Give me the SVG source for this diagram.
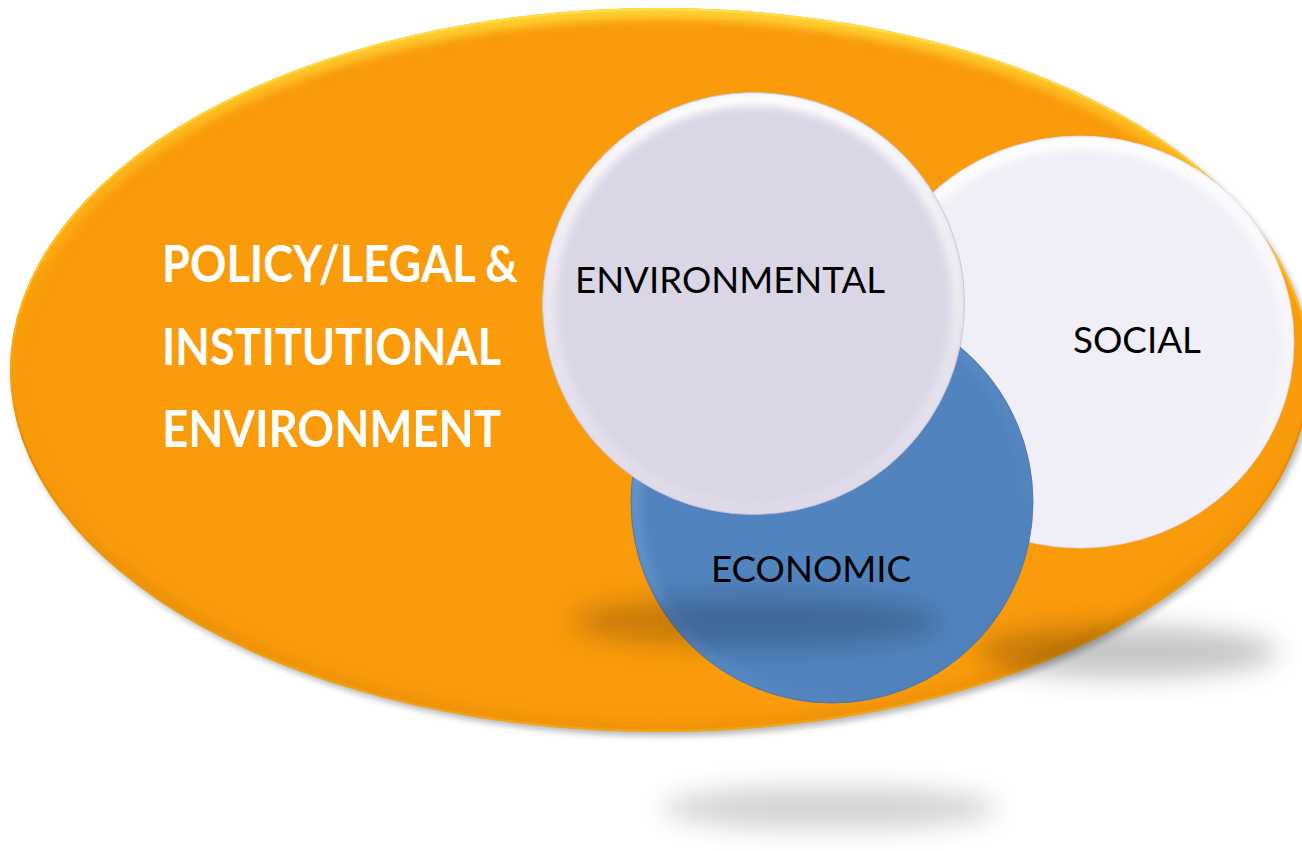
<svg xmlns="http://www.w3.org/2000/svg" width="1302" height="851" viewBox="0 0 1302 851">
  <defs>
    <style>
      .bold { font-family: Lato, "Open Sans", "Liberation Sans", sans-serif; font-weight: 700; font-size: 51px; fill: #FFFFFF; }
      .lbl { font-family: Lato, "Open Sans", "Liberation Sans", sans-serif; font-weight: 400; font-size: 36px; fill: #000000; }
      .shadow { fill: #000000; filter: url(#blurBig); }
    </style>
    <filter id="blurBig" x="-50%" y="-100%" width="200%" height="300%">
      <feGaussianBlur stdDeviation="13"/>
    </filter>
    <filter id="blurSmall" x="-10%" y="-10%" width="120%" height="120%">
      <feGaussianBlur stdDeviation="3"/>
    </filter>
    <filter id="blurRim" x="-10%" y="-10%" width="120%" height="120%">
      <feGaussianBlur stdDeviation="4"/>
    </filter>
    <clipPath id="clipOrange"><ellipse cx="660" cy="370" rx="650" ry="362"/></clipPath>
    <clipPath id="clipEnv"><circle cx="753.5" cy="303.5" r="211"/></clipPath>
    <clipPath id="clipSoc"><ellipse cx="1080" cy="342" rx="214" ry="206"/></clipPath>
    <clipPath id="clipEco"><circle cx="832" cy="502" r="201"/></clipPath>
    <linearGradient id="rimOrange" x1="0" y1="0" x2="0" y2="1">
      <stop offset="0" stop-color="#FFD838" stop-opacity="0.9"/>
      <stop offset="0.3" stop-color="#FFBE1C" stop-opacity="0.5"/>
      <stop offset="0.5" stop-color="#F99B0B" stop-opacity="0"/>
      <stop offset="0.8" stop-color="#D98300" stop-opacity="0.35"/>
      <stop offset="1" stop-color="#E08800" stop-opacity="0.35"/>
    </linearGradient>
    <linearGradient id="edgeOrange" x1="0" y1="0" x2="0" y2="1">
      <stop offset="0" stop-color="#FFE048"/>
      <stop offset="0.4" stop-color="#FFB818"/>
      <stop offset="0.6" stop-color="#E58C05"/>
      <stop offset="1" stop-color="#F2A512"/>
    </linearGradient>
    <linearGradient id="rimLight" x1="0" y1="0" x2="0" y2="1">
      <stop offset="0" stop-color="#FFFFFF" stop-opacity="1"/>
      <stop offset="0.45" stop-color="#FFFFFF" stop-opacity="0.5"/>
      <stop offset="1" stop-color="#FFFFFF" stop-opacity="0.1"/>
    </linearGradient>
    <linearGradient id="rimBlue" x1="0" y1="0" x2="1" y2="1">
      <stop offset="0" stop-color="#8DB6E8" stop-opacity="0.7"/>
      <stop offset="0.5" stop-color="#6F9CD2" stop-opacity="0.3"/>
      <stop offset="1" stop-color="#3F6DA6" stop-opacity="0.4"/>
    </linearGradient>
  </defs>

  <!-- floating shadow below the diagram -->
  <ellipse class="shadow" cx="830" cy="808" rx="168" ry="22" opacity="0.17"/>

  <g id="policy-legal-institutional-environment">
    <ellipse cx="663" cy="374" rx="650" ry="362" fill="#000000" opacity="0.28" filter="url(#blurSmall)"/>
    <ellipse cx="660" cy="370" rx="650" ry="362" fill="#F99B0B"/>
    <g clip-path="url(#clipOrange)">
      <ellipse cx="660" cy="370" rx="647" ry="359" fill="none" stroke="url(#rimOrange)" stroke-width="16" filter="url(#blurRim)"/>
      <ellipse cx="660" cy="370" rx="649" ry="361" fill="none" stroke="url(#edgeOrange)" stroke-width="2.5"/>
    </g>
    <text class="bold" x="162" y="282" textLength="356" lengthAdjust="spacingAndGlyphs">POLICY/LEGAL &amp;</text>
    <text class="bold" x="162" y="365" textLength="339" lengthAdjust="spacingAndGlyphs">INSTITUTIONAL</text>
    <text class="bold" x="162" y="447" textLength="339" lengthAdjust="spacingAndGlyphs">ENVIRONMENT</text>
  </g>

  <!-- cast shadow of the social circle -->
  <ellipse class="shadow" cx="1128" cy="652" rx="150" ry="26" opacity="0.22"/>

  <g id="social">
    <ellipse cx="1080" cy="342" rx="214" ry="206" fill="#F0EEF6"/>
    <g clip-path="url(#clipSoc)">
      <ellipse cx="1080" cy="342" rx="208" ry="200" fill="none" stroke="url(#rimLight)" stroke-width="14" filter="url(#blurRim)"/>
    </g>
    <ellipse cx="1080" cy="342" rx="214" ry="206" fill="none" stroke="#DCD8E4" stroke-width="0.8"/>
    <text class="lbl" x="1073" y="353" textLength="128" lengthAdjust="spacingAndGlyphs">SOCIAL</text>
  </g>

  <g id="economic">
    <circle cx="832" cy="502" r="201" fill="#5183BE"/>
    <g clip-path="url(#clipEco)">
      <circle cx="832" cy="502" r="197" fill="none" stroke="url(#rimBlue)" stroke-width="10" filter="url(#blurRim)"/>
    </g>
    <circle cx="832" cy="502" r="201" fill="none" stroke="#4572AA" stroke-width="0.8"/>
    <text class="lbl" x="711" y="582" textLength="200" lengthAdjust="spacingAndGlyphs">ECONOMIC</text>
  </g>

  <!-- cast shadow of the environmental circle -->
  <ellipse class="shadow" cx="757" cy="622" rx="185" ry="25" opacity="0.2"/>

  <g id="environmental">
    <circle cx="753.5" cy="303.5" r="211" fill="#DBD6E6"/>
    <g clip-path="url(#clipEnv)">
      <circle cx="753.5" cy="303.5" r="205" fill="none" stroke="url(#rimLight)" stroke-width="14" filter="url(#blurRim)"/>
    </g>
    <circle cx="753.5" cy="303.5" r="211" fill="none" stroke="#C2BECE" stroke-width="0.8"/>
    <text class="lbl" x="575" y="293" textLength="310" lengthAdjust="spacingAndGlyphs">ENVIRONMENTAL</text>
  </g>

  <g id="connectors"/>
</svg>
